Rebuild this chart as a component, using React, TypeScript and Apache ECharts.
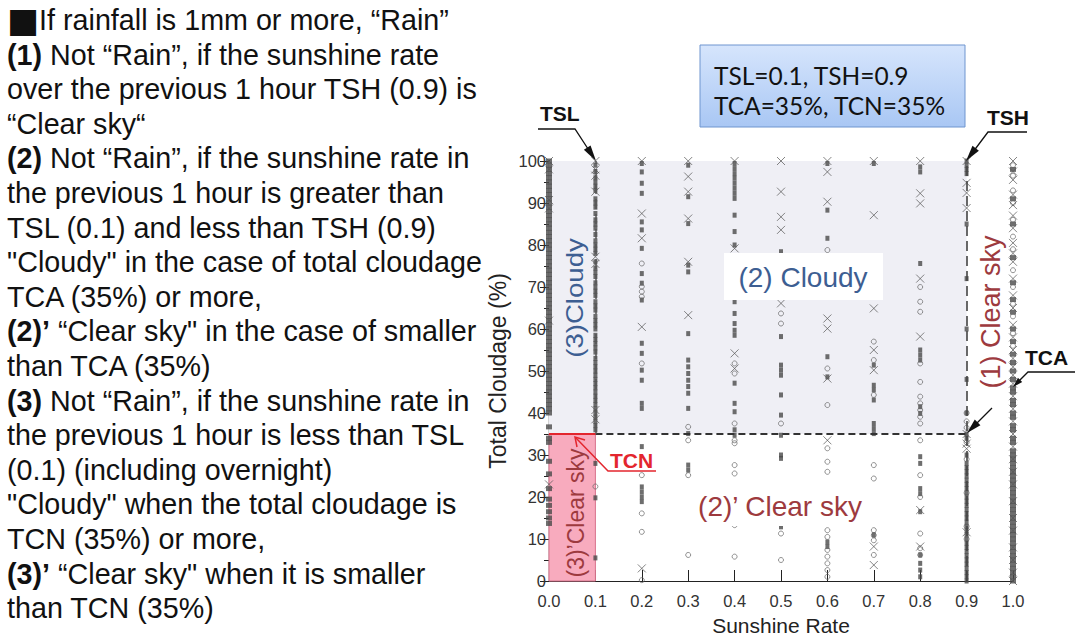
import React, { useEffect, useRef } from "react";
import * as echarts from "echarts";

// ---- thresholds ----
const TSL = 0.1;
const TSH = 0.9;
const TCA = 35;
const TCN = 35;

// ---- x categories (sunshine rate columns) ----
const sunshineRates = [0, 0.1, 0.2, 0.3, 0.4, 0.5, 0.6, 0.7, 0.8, 0.9, 1.0];

// ---- total cloudage (%) per sunshine-rate column, by marker type ----
const squareCloudage: number[][] = [
  [100, 99, 98, 97, 96, 95, 94, 93, 92, 91, 90, 89, 88, 87, 86, 85, 84, 83, 82, 81, 80, 79, 78, 77, 76, 75, 74, 73, 72, 71, 70, 69, 68, 67, 66, 65, 64, 63, 62, 61, 60, 59, 58, 57, 56, 55, 54, 53, 52, 51, 50, 49, 48, 47, 46, 45, 44, 43, 42, 41, 40, 36.7, 34, 33, 28.5, 25.5, 22, 19.5, 18, 16.5, 15, 13.7],
  [99, 97.5, 96, 95, 94, 93, 91, 90, 89, 87.5, 86, 85, 84, 82.5, 81, 80, 79, 78, 76, 74.5, 73.5, 72.5, 71, 70, 69, 68, 66.5, 65.5, 64.5, 63, 62, 61, 60, 58.5, 57.5, 56.5, 55.5, 54.5, 53, 52, 51, 50, 49, 48, 47, 46, 45, 44, 43, 42, 41, 40, 39, 38, 37, 36, 28, 19.8, 5.5],
  [99.4, 97.4, 94.7, 92.3, 85.5, 83.6, 79.2, 73.2, 70.9, 66.9, 56.6, 54.2, 50.2, 47.8, 42.3, 41.1, 32, 22.4, 21.2, 20, 18.9],
  [99, 91.5, 85.1, 75.2, 73.6, 58.9, 52.6, 51, 49.4, 47.8, 46.3, 44.7, 41.1, 35.1, 27.6, 26.4],
  [99.4, 98.2, 97, 95.9, 94.7, 93.5, 92.3, 91.1, 87.1, 83.2, 80, 66.5, 63.7, 61.3, 59.7, 58.5, 47.1, 42.3, 40.3, 36, 34.7],
  [78.4, 58.2, 51.4, 50.2, 49, 44.3, 39.5, 34.7, 30, 29.2, 12.9],
  [99.4, 88.3, 81.6, 53.4, 48.6, 9.3, 8.2],
  [99.4, 51.4, 46.6, 45.5, 43.1, 37.5, 36.3, 35.1, 11],
  [98.6, 97.4, 75.6, 55, 53.8, 52.6, 41.5, 39.9, 29.6, 28, 22, 20.8, 16.5, 6.2, 4.2, 2.6, 1],
  [100, 99, 98, 97, 85, 72, 60, 48, 40, 35, 34, 30, 28, 27, 26, 25, 24, 23, 22, 21, 20, 19, 18, 17, 16, 15, 14, 13, 12, 11, 10, 9, 8, 7, 6, 5, 4, 3, 2, 1, 0],
  [98, 91, 85, 77, 71, 67, 64, 60, 57, 54, 52, 50, 48, 46, 45, 43, 42, 40, 39, 37, 36, 34, 33, 31, 30, 29, 28, 27, 26, 25, 24, 23, 22, 21, 20, 19, 18, 17, 16, 15, 14, 13, 12, 11, 10, 9, 8, 7, 6, 5, 4, 3, 2, 1, 0],
];

const circleCloudage: number[][] = [
  [],
  [22.5],
  [75.6, 70.1, 68.9, 67.7, 51.8, 25.2, 16.1, 11.7, 0.2],
  [36.7, 33.5, 25.2, 6.2],
  [51.8, 49.4, 37.5, 33.5, 32.8, 27.6, 25.6, 14.5, 13.3, 5.8],
  [63.7, 61.3, 37.5, 13.7, 11.3, 5],
  [78.8, 50.6, 41.9, 31.6, 28.4, 26, 12.1, 10.5, 7.4, 5.8, 4.2, 2.6, 1],
  [57, 52.6, 44.3, 27.6, 24.4, 12.1, 10.9, 9.7, 6.2],
  [70, 66.5, 64.1, 51.8, 47.4, 43.9, 42.3, 40.7, 39.1, 37.5, 33.5, 25.2, 20, 11.3, 7.8, 6.2],
  [40, 38, 36.5, 33, 29, 21, 13, 10],
  [99, 96.5, 93, 90, 86, 82, 79, 74, 70, 66, 63, 59, 56, 52, 48, 45, 42, 39, 36, 33, 30, 27, 24, 21, 17, 13, 10, 6, 3, 1],
];

const crossCloudage: number[][] = [
  [100, 98, 90.7, 88.7, 62, 23],
  [100, 98, 96.5, 92.7, 77.2, 75.5, 40.7, 38.5],
  [100, 87.5, 81.6, 60.5, 3],
  [100, 96.3, 92.7, 86.3, 76, 63.3],
  [100, 79.2, 54.2, 50.6],
  [100, 92.7, 86.7, 83.6, 66.1],
  [100, 97.4, 90.3, 62.5, 60.1, 48.2, 33.5],
  [100, 87.1, 64.9, 55, 50.2, 8.2, 3.8],
  [100, 92.3, 89.9, 72, 58.2, 16.9, 8.2],
  [100, 94.8, 92.4, 88.8, 35, 32.7, 31.5, 11.6],
  [100, 97.5, 95.5, 92, 89.5, 87, 84, 80.5, 78, 76, 72, 68, 65, 61, 58, 55, 53, 51, 49, 47, 44, 41, 38, 35, 32, 29, 26, 23, 19, 15, 12, 8, 5, 2, 0],
];

// ---- text ----
const legendLines = ["TSL=0.1, TSH=0.9", "TCA=35%, TCN=35%"];
const descriptionLines = [
  "{sq|■}If rainfall is 1mm or more, “Rain”",
  "{b|(1)} Not “Rain”, if the sunshine rate",
  "over the previous 1 hour TSH (0.9) is",
  "“Clear sky“",
  "{b|(2)} Not “Rain”, if the sunshine rate in",
  "the previous 1 hour is greater than",
  "TSL (0.1) and less than TSH (0.9)",
  "\"Cloudy\" in the case of total cloudage",
  "TCA (35%) or more,",
  "{b|(2)’} “Clear sky\" in the case of smaller",
  "than TCA (35%)",
  "{b|(3)} Not “Rain”, if the sunshine rate in",
  "the previous 1 hour is less than TSL",
  "(0.1) (including overnight)",
  "\"Cloudy\" when the total cloudage is",
  "TCN (35%) or more,",
  "{b|(3)’} “Clear sky\" when it is smaller",
  "than TCN (35%)",
];

const ARIAL = '"Liberation Sans", Arial, Helvetica, sans-serif';

const toPairs = (cols: number[][]) =>
  cols.flatMap((c, i) => c.map((v) => [sunshineRates[i], v]));

function arrowHead(fx: number, fy: number, tx: number, ty: number, len: number, half: number, color: string) {
  const dx = tx - fx, dy = ty - fy;
  const d = Math.hypot(dx, dy);
  const ux = dx / d, uy = dy / d;
  const bx = tx - ux * len, by = ty - uy * len;
  return {
    type: "polygon",
    z: 100,
    shape: { points: [[tx, ty], [bx - uy * half, by + ux * half], [bx + uy * half, by - ux * half]] },
    style: { fill: color },
  };
}

export default function App() {
  const ref = useRef<HTMLDivElement>(null);
  useEffect(() => {
    if (!ref.current) return;
    const chart = echarts.init(ref.current, undefined, { renderer: "svg" });

    const axisText = { fontFamily: ARIAL, fontSize: 16.5, color: "#333" };
    const darkLine = { stroke: "#111", lineWidth: 1.3, fill: "none" };
    const descSize = 28.7;

    const graphics: any[] = [];
    // description text
    descriptionLines.forEach((t, i) => {
      graphics.push({
        type: "text",
        z: 100,
        x: 7,
        y: 20 + 34.6 * i,
        style: {
          text: t,
          fontFamily: ARIAL,
          fontSize: descSize,
          fill: "#111",
          textAlign: "left",
          verticalAlign: "middle",
          rich: {
            b: { fontFamily: ARIAL, fontSize: descSize, fontWeight: "bold", fill: "#111" },
            sq: { fontFamily: '"DejaVu Sans", sans-serif', fontSize: 34, fill: "#111", verticalAlign: "middle" },
          },
        },
      });
    });
    // legend box
    graphics.push({
      type: "rect",
      z: 100,
      shape: { x: 700, y: 45, width: 265, height: 82 },
      style: {
        fill: {
          type: "linear", x: 0, y: 0, x2: 0, y2: 1,
          colorStops: [{ offset: 0, color: "#d6e5fc" }, { offset: 1, color: "#a9c7f4" }],
        },
        stroke: "#6f95cf",
        lineWidth: 1,
      },
    });
    legendLines.forEach((t, i) => {
      graphics.push({
        type: "text",
        z: 101,
        x: 714,
        y: 75 + 30 * i,
        style: { text: t, fontFamily: "Lato, 'Open Sans', sans-serif", fontSize: 24.5, fill: "#111", verticalAlign: "middle" },
      });
    });
    // region labels
    graphics.push({ type: "rect", z: 90, shape: { x: 724, y: 253, width: 159, height: 47 }, style: { fill: "#ffffff" } });
    graphics.push({
      type: "text", z: 100, x: 803, y: 277,
      style: { text: "(2) Cloudy", fontFamily: ARIAL, fontSize: 28, fill: "#3d5e92", textAlign: "center", verticalAlign: "middle" },
    });
    graphics.push({ type: "rect", z: 90, shape: { x: 690, y: 484, width: 190, height: 42 }, style: { fill: "#ffffff" } });
    graphics.push({
      type: "text", z: 100, x: 780, y: 506,
      style: { text: "(2)’ Clear sky", fontFamily: ARIAL, fontSize: 28, fill: "#9d3a3e", textAlign: "center", verticalAlign: "middle" },
    });
    graphics.push({
      type: "text", z: 100, x: 991, y: 312, rotation: Math.PI / 2,
      style: { text: "(1) Clear sky", fontFamily: ARIAL, fontSize: 27, fill: "#9d3a3e", textAlign: "center", verticalAlign: "middle" },
    });
    graphics.push({
      type: "text", z: 100, x: 575, y: 298, rotation: Math.PI / 2, scaleX: 1.2,
      style: { text: "(3)Cloudy", fontFamily: ARIAL, fontSize: 23, fill: "#3d5e92", textAlign: "center", verticalAlign: "middle" },
    });
    graphics.push({
      type: "text", z: 100, x: 576, y: 513, rotation: Math.PI / 2,
      style: { text: "(3)’Clear sky", fontFamily: ARIAL, fontSize: 23, fill: "#9d3a3e", textAlign: "center", verticalAlign: "middle" },
    });
    // TSL
    graphics.push({ type: "text", z: 100, x: 540, y: 113, style: { text: "TSL", fontFamily: ARIAL, fontSize: 21, fontWeight: "bold", fill: "#111", verticalAlign: "middle" } });
    graphics.push({ type: "polyline", z: 100, shape: { points: [[538, 129], [575, 129], [592, 155]] }, style: darkLine });
    graphics.push(arrowHead(575, 129, 596, 161, 16, 4, "#111"));
    // TSH
    graphics.push({ type: "text", z: 100, x: 987, y: 117, style: { text: "TSH", fontFamily: ARIAL, fontSize: 21, fontWeight: "bold", fill: "#111", verticalAlign: "middle" } });
    graphics.push({ type: "polyline", z: 100, shape: { points: [[1027, 132], [988, 132], [970, 156]] }, style: darkLine });
    graphics.push(arrowHead(988, 132, 966, 161, 16, 4, "#111"));
    // TCA
    graphics.push({ type: "text", z: 100, x: 1025, y: 357, style: { text: "TCA", fontFamily: ARIAL, fontSize: 21, fontWeight: "bold", fill: "#111", verticalAlign: "middle" } });
    graphics.push({ type: "polyline", z: 100, shape: { points: [[1075, 372], [1028, 372], [1016, 384]] }, style: darkLine });
    graphics.push(arrowHead(1028, 372, 1013, 387, 10, 3, "#111"));
    graphics.push({ type: "polyline", z: 100, shape: { points: [[992, 408], [972, 428]] }, style: darkLine });
    graphics.push(arrowHead(992, 408, 967, 433, 15, 4, "#111"));
    // TCN
    graphics.push({ type: "text", z: 100, x: 610, y: 460, style: { text: "TCN", fontFamily: ARIAL, fontSize: 21, fontWeight: "bold", fill: "#e3262e", verticalAlign: "middle" } });
    graphics.push({ type: "polyline", z: 100, shape: { points: [[656, 471], [608, 471], [576, 438]] }, style: { stroke: "#e3262e", lineWidth: 1.5, fill: "none" } });
    graphics.push({ type: "polyline", z: 100, shape: { points: [[577, 447], [575, 437], [585, 440]] }, style: { stroke: "#e3262e", lineWidth: 1.5, fill: "none" } });

    const edgeColumn = (x: number) => x === 0 || x === 1;

    const option: any = {
      animation: false,
      grid: { left: 549, top: 161, width: 464, height: 420, containLabel: false },
      xAxis: [
        {
          type: "value", min: 0, max: 1, interval: 0.1,
          name: "Sunshine Rate", nameLocation: "middle", nameGap: 34,
          nameTextStyle: { fontFamily: ARIAL, fontSize: 21, color: "#222" },
          axisLine: { show: true, lineStyle: { color: "#222", width: 1.2 } },
          axisTick: { show: true, inside: true, length: 11, lineStyle: { color: "#222" } },
          axisLabel: { ...axisText, margin: 12, lineHeight: 16, formatter: (v: number) => v.toFixed(1) },
          splitLine: { show: false },
        },
        {
          type: "value", min: 0, max: 1, position: "top",
          axisLine: { show: true, lineStyle: { color: "#222", width: 1.2 } },
          axisTick: { show: false }, axisLabel: { show: false }, splitLine: { show: false },
        },
      ],
      yAxis: [
        {
          type: "value", min: 0, max: 100, interval: 10,
          name: "Total Cloudage (%)", nameLocation: "middle", nameGap: 40, nameRotate: 90,
          nameTextStyle: { fontFamily: ARIAL, fontSize: 23, color: "#222" },
          axisLine: { show: true, lineStyle: { color: "#222", width: 1.2 } },
          axisTick: { show: true, inside: true, length: 9, lineStyle: { color: "#222" } },
          minorTick: { show: true, splitNumber: 2, length: 5, lineStyle: { color: "#222" } },
          axisLabel: { ...axisText, margin: 3, lineHeight: 14 },
          splitLine: { show: false },
        },
        {
          type: "value", min: 0, max: 100, interval: 10, position: "right",
          axisLine: { show: true, lineStyle: { color: "#222", width: 1.2 } },
          axisTick: { show: true, inside: true, length: 9, lineStyle: { color: "#222" } },
          minorTick: { show: true, splitNumber: 2, length: 5, lineStyle: { color: "#222" } },
          axisLabel: { show: false }, splitLine: { show: false },
        },
      ],
      series: [
        {
          type: "scatter",
          name: "regions",
          data: [],
          z: 1,
          silent: true,
          markArea: {
            silent: true,
            label: { show: false },
            data: [
              [{ xAxis: 0, yAxis: TCA, itemStyle: { color: "#efeff5" } }, { xAxis: TSH, yAxis: 100 }],
              [{ xAxis: 0, yAxis: 0, itemStyle: { color: "#f8abbe", borderColor: "#d8738c", borderWidth: 1 } }, { xAxis: TSL, yAxis: TCN }],
            ],
          },
          markLine: {
            silent: true,
            symbol: "none",
            label: { show: false },
            data: [
              [{ coord: [TSL, TCA], lineStyle: { color: "#333", width: 2, type: [7, 4] } }, { coord: [TSH, TCA] }],
              [{ coord: [TSH, 0], lineStyle: { color: "#444", width: 1.6, type: [10, 5] } }, { coord: [TSH, 100] }],
              [{ coord: [TSL, TCN], lineStyle: { color: "#555", width: 1.5, type: [10, 5] } }, { coord: [TSL, 100] }],
              [{ coord: [0, TCN], lineStyle: { color: "#e3262e", width: 2.2, type: "solid" } }, { coord: [TSL, TCN] }],
            ],
          },
        },
        {
          type: "scatter", name: "square", z: 3, silent: true,
          symbol: "rect",
          symbolSize: (v: number[]) => (edgeColumn(v[0]) ? [6, 5] : [4, 5]),
          itemStyle: { color: "#4a4a4a" },
          data: toPairs(squareCloudage),
        },
        {
          type: "scatter", name: "circle", z: 3, silent: true,
          symbol: "circle", symbolSize: 5,
          itemStyle: { color: "rgba(0,0,0,0)", borderColor: "#666", borderWidth: 0.9 },
          data: toPairs(circleCloudage),
        },
        {
          type: "scatter", name: "cross", z: 4, silent: true,
          symbol: "path://M0,0L10,10M10,0L0,10", symbolSize: 8,
          itemStyle: { color: "rgba(0,0,0,0)", borderColor: "#555", borderWidth: 0.9 },
          data: toPairs(crossCloudage),
        },
      ],
      graphic: { elements: graphics },
    };

    chart.setOption(option);
    return () => chart.dispose();
  }, []);

  return <div ref={ref} style={{ position: "absolute", left: 0, top: 0, width: 1080, height: 641, background: "#fff" }} />;
}
